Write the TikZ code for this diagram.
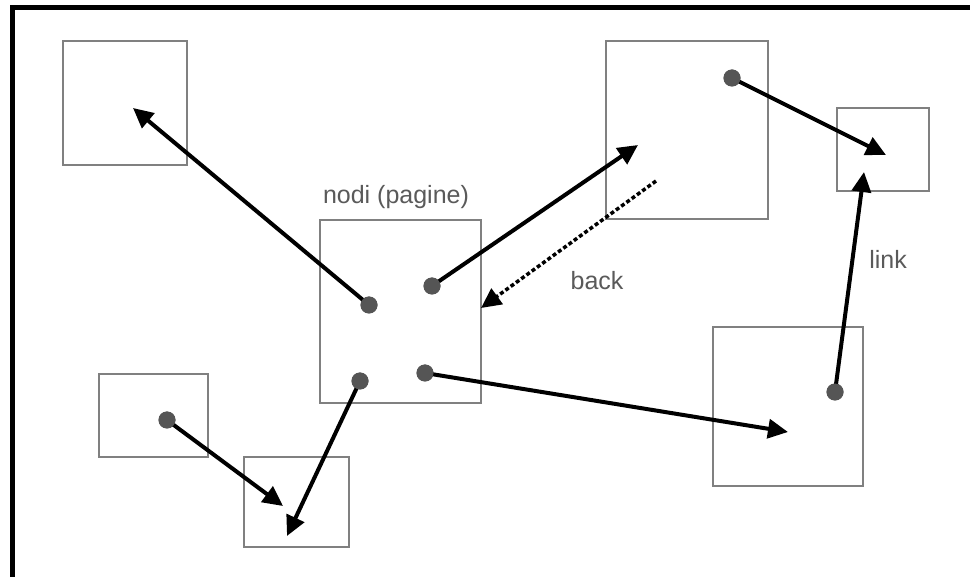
\documentclass[tikz,border=0pt]{standalone}
\usepackage{fontspec}
\setmainfont{Liberation Sans}
\usetikzlibrary{arrows.meta}
\definecolor{boxgray}{HTML}{808080}
\definecolor{dotgray}{HTML}{555555}
\definecolor{txtgray}{HTML}{5A5A5A}
\begin{document}
\begin{tikzpicture}[x=1pt,y=-1pt,
  pagebox/.style={draw=boxgray,line width=2.6pt},
  dotnode/.style={circle,fill=dotgray,minimum size=17pt,inner sep=0pt},
  linkarrow/.style={draw=black,line width=4pt,-{Triangle[length=20pt,width=19pt]}},
  backarrow/.style={draw=black,line width=3.5pt,dash pattern=on 4pt off 2.5pt,-{Triangle[length=20pt,width=19pt]}},
  lbl/.style={text=txtgray,font=\fontsize{25}{28}\selectfont,inner sep=0pt}]
\useasboundingbox (0,0) rectangle (970,577);
\fill[white] (0,0) rectangle (970,577);
% frame (top and left only)
\draw[line width=5pt,black] (12,577) -- (12,7.5) -- (970,7.5);
% boxes
\draw[pagebox] (63,41) rectangle (187,165);
\draw[pagebox] (606,41) rectangle (768,219);
\draw[pagebox] (837,108) rectangle (929,191);
\draw[pagebox] (320,220) rectangle (481,403);
\draw[pagebox] (99,374) rectangle (208,457);
\draw[pagebox] (244,457) rectangle (349,547);
\draw[pagebox] (713,327) rectangle (863,486);
% dots
\node[dotnode] (d1) at (369,305) {};
\node[dotnode] (d2) at (432,286) {};
\node[dotnode] (d3) at (360,381) {};
\node[dotnode] (d4) at (425,373) {};
\node[dotnode] (d5) at (732,78) {};
\node[dotnode] (d6) at (167,420) {};
\node[dotnode] (d7) at (835,392) {};
% arrow ends
\coordinate (t1) at (133,108);
\coordinate (t2) at (638,145);
\coordinate (t4) at (788,432);
\coordinate (t5) at (886,155);
\coordinate (t6) at (283,506);
\coordinate (t3) at (287,536);
\coordinate (t7) at (864,172);
\coordinate (bs) at (656,181);
\coordinate (bt) at (481,308);
% arrows
\draw[linkarrow] (d1.center) -- (t1);
\draw[linkarrow] (d2.center) -- (t2);
\draw[linkarrow] (d4.center) -- (t4);
\draw[linkarrow] (d5.center) -- (t5);
\draw[linkarrow] (d6.center) -- (t6);
\draw[linkarrow] (d3.center) -- (t3);
\draw[linkarrow] (d7.center) -- (t7);
\draw[backarrow] (bs) -- (bt);
% dots on top
\foreach \d in {d1,d2,d3,d4,d5,d6,d7} \fill[dotgray] (\d) circle (8.5pt);
% labels
\node[lbl] (nodi) at (396,197) {nodi (pagine)};
\node[lbl] (back) at (597,281) {back};
\node[lbl] (link) at (888,259) {link};
\end{tikzpicture}
\end{document}
